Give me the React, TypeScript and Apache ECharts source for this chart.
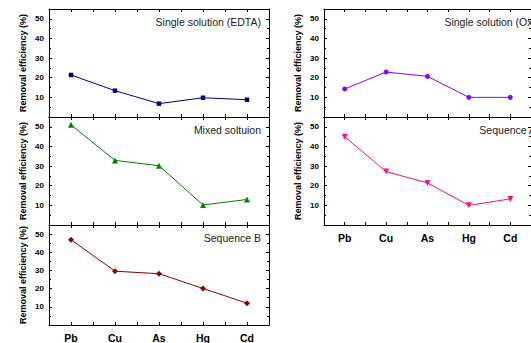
import React, { useEffect, useRef } from "react";
import * as echarts from "echarts";

const categories = ["Pb", "Cu", "As", "Hg", "Cd"];
const edtaValues = [21.4, 13.4, 6.8, 9.8, 8.8];
const mixedValues = [51.0, 32.9, 30.2, 10.2, 13.0];
const seqBValues = [46.9, 29.6, 28.2, 20.1, 12.0];
const oxValues = [14.3, 22.9, 20.7, 10.0, 10.0];
const seqAValues = [44.9, 27.2, 21.4, 10.0, 13.3];
const yTickLabels = [10, 20, 30, 40, 50];

const panelTitles = ["Single solution (EDTA)", "Mixed soltuion", "Sequence B", "Single solution (Ox)", "Sequence A"];
const panelValues = [edtaValues, mixedValues, seqBValues, oxValues, seqAValues];
const panelColors = ["#000080", "#008000", "#8b0000", "#8a00ff", "#ff0a80"];
const panelSymbols = ["rect", "triangle", "diamond", "circle", "triangle"];
const panelSymbolRotate = [0, 0, 0, 0, 180];
const panelSymbolSize = [4.5, 6, 6, 5, 6];
// layout: [left, top, showXLabels]
const panelLayout: [number, number, boolean][] = [
  [49, 9, false],
  [49, 117, false],
  [49, 225, true],
  [324, 9, false],
  [324, 117, true],
];

const FONT = "'Liberation Sans', Arial, sans-serif";
const W = 220;
const H = 108;

export default function App() {
  const ref = useRef<HTMLDivElement>(null);
  useEffect(() => {
    if (!ref.current) return;
    const chart = echarts.init(ref.current, undefined, { renderer: "svg" });
    const grids: any[] = [];
    const xAxes: any[] = [];
    const yAxes: any[] = [];
    const series: any[] = [];
    const graphics: any[] = [];
    const lineStyle = { color: "#000", width: 1 };
    panelLayout.forEach(([left, top, showX], i) => {
      grids.push({ left, top, width: W, height: H, show: false });
      const xBase = {
        type: "category",
        gridIndex: i,
        data: categories,
        boundaryGap: true,
        axisLine: { show: true, lineStyle },
        splitLine: { show: false },
      };
      const xMain = xAxes.length;
      xAxes.push({
        ...xBase,
        position: "bottom",
        axisTick: { show: true, inside: true, length: 3, interval: 0, lineStyle },
        axisLabel: {
          show: showX,
          interval: 0,
          margin: 7,
          fontSize: 10.5,
          fontWeight: "bold",
          color: "#000",
          fontFamily: FONT,
        },
      });
      xAxes.push({
        ...xBase,
        position: "bottom",
        axisLine: { show: false },
        axisTick: { show: true, inside: true, length: 3, interval: 0, alignWithLabel: true, lineStyle },
        axisLabel: { show: false },
      });
      xAxes.push({
        ...xBase,
        position: "top",
        axisTick: { show: true, inside: true, length: 3, interval: 0, lineStyle },
        axisLabel: { show: false },
      });
      xAxes.push({
        ...xBase,
        position: "top",
        axisLine: { show: false },
        axisTick: { show: true, inside: true, length: 3, interval: 0, alignWithLabel: true, lineStyle },
        axisLabel: { show: false },
      });
      const yBase = {
        type: "value",
        gridIndex: i,
        min: 0,
        max: 55,
        interval: 10,
        axisLine: { show: true, lineStyle },
        axisTick: { show: true, inside: true, length: 3, lineStyle },
        minorTick: { show: true, splitNumber: 2, length: 2, lineStyle },
        splitLine: { show: false },
        minorSplitLine: { show: false },
      };
      const yMain = yAxes.length;
      yAxes.push({
        ...yBase,
        position: "left",
        name: "Removal efficiency (%)",
        nameLocation: "middle",
        nameGap: 22,
        nameTextStyle: { fontSize: 9, fontWeight: "bold", color: "#000", fontFamily: FONT },
        axisLabel: {
          margin: 5,
          fontSize: 8,
          fontWeight: "bold",
          color: "#000",
          fontFamily: FONT,
          formatter: (v: number) => (yTickLabels.indexOf(v) >= 0 ? String(v) : ""),
        },
      });
      yAxes.push({
        ...yBase,
        position: "right",
        axisLabel: { show: false },
      });
      series.push({
        type: "line",
        xAxisIndex: xMain,
        yAxisIndex: yMain,
        data: panelValues[i],
        symbol: panelSymbols[i],
        symbolSize: panelSymbolSize[i],
        symbolRotate: panelSymbolRotate[i],
        showAllSymbol: true,
        lineStyle: { color: panelColors[i], width: 1 },
        itemStyle: { color: panelColors[i] },
      });
      graphics.push({
        type: "text",
        x: left + W - 8,
        y: top + 13,
        style: {
          text: panelTitles[i],
          fill: "#1a1a1a",
          fontSize: 10.5,
          fontFamily: FONT,
          align: "right",
          verticalAlign: "middle",
        },
      });
    });
    chart.setOption({
      animation: false,
      backgroundColor: "#fff",
      grid: grids,
      xAxis: xAxes,
      yAxis: yAxes,
      series,
      graphic: graphics,
    });
    return () => chart.dispose();
  }, []);
  return (
    <div
      ref={ref}
      style={{ position: "fixed", left: 0, top: 0, width: 531, height: 343 }}
    />
  );
}
